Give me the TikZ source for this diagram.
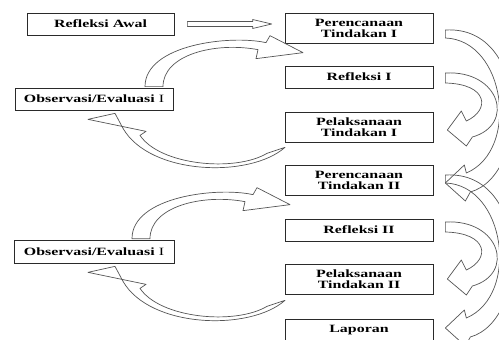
\documentclass[tikz,border=0pt]{standalone}
\usepackage{fontspec}
\setmainfont{Liberation Serif}[FakeStretch=1.43]
\usetikzlibrary{calc}

\begin{document}
\begin{tikzpicture}[
    x=0.03cm, y=-0.03cm,
    every node/.style={font=\fontsize{9.5}{9.5}\selectfont\bfseries},
    stage/.style={draw=boxcolor, line width=0.6pt, inner sep=0pt, align=center,
                  minimum width=148*\px, minimum height=22*\px},
    tall/.style={minimum height=30*\px},
    blockarrow/.style={draw=arrowcolor, line width=0.6pt, line join=round},
]

\definecolor{boxcolor}{HTML}{2A2A2A}
\definecolor{arrowcolor}{HTML}{555555}

\def\px{0.03cm}   % one pixel of the page

\useasboundingbox (0,0) rectangle (499,340);
\clip (0,0) rectangle (499,340);

% ---------------------------------------------------------------- boxes
\node[stage, minimum width=147*\px] (awal) at (100.5,24) {Refleksi Awal};

\node[stage, tall] (per1) at (359,28)  {Perencanaan\\Tindakan I};
\node[stage]       (ref1) at (359,77)  {Refleksi I};
\node[stage, tall] (pel1) at (359,127) {Pelaksanaan\\Tindakan I};
\node[stage, minimum width=158*\px] (obs1) at (94,99)
    {Observasi/Evaluasi \textmd{I}};

\node[stage, tall] (per2) at (359,180) {Perencanaan\\Tindakan II};
\node[stage]       (ref2) at (359,230) {Refleksi II};
\node[stage, tall] (pel2) at (359,279) {Pelaksanaan\\Tindakan II};
\node[stage, minimum width=160*\px, minimum height=23*\px] (obs2) at (94,251.5)
    {Observasi/Evaluasi \textmd{I}};

\node[stage] (lap) at (359,330) {Laporan};

% ---------------------------------------------------------------- straight arrow
\coordinate (s0) at ($(awal.east)+(13,0)$);
\coordinate (s1) at ($(per1.west|-awal.east)+(-13,0)$);
\draw[blockarrow] ($(s0)+(0,-2.5)$) -- ($(s1)+(-19,-2.5)$) -- ($(s1)+(-19,-4.5)$)
    -- (s1) -- ($(s1)+(-19,4.5)$) -- ($(s1)+(-19,2.5)$) -- ($(s0)+(0,2.5)$) -- cycle;

% ---------------------------------------------------------------- left loops
\foreach \k/\dx in {1/0, 2/-13} {
  % observasi -> refleksi, over the top
  \begin{scope}[shift={(obs\k.north)}, shift={(\dx,0)}]
    \draw[blockarrow] (51,-1) .. controls (51,-43) and (136,-53) .. (172,-45)
        -- (176,-52) -- (209,-35) -- (162,-29) -- (164,-38)
        .. controls (121,-46) and (69,-33) .. (69,-1) -- cycle;
  \end{scope}
  % pelaksanaan -> observasi, under the bottom
  \begin{scope}[shift={(obs\k.south)}]
    \draw[blockarrow] (191,37) .. controls (156,68) and (56,65) .. (29,18)
        -- (21,3) -- (-6,9) -- (52,21) -- (46,25)
        .. controls (66,55) and (141,62) .. (173,43) -- cycle;
  \end{scope}
}

% ---------------------------------------------------------------- right loops
\foreach \k/\dy/\dz in {1/0/0, 2/-8/-4} {
  % refleksi -> pelaksanaan
  \begin{scope}[shift={(ref\k.east)}, shift={(0,\dz)}]
    \draw[blockarrow] (12,-4) .. controls (67,-7) and (82,48) .. (39,60)
        -- (33,69) -- (14,53) -- (28,34) -- (33,44)
        .. controls (57,33) and (55,7) .. (12,6) -- cycle;
  \end{scope}
  % perencanaan -> next stage, mostly past the page edge
  \begin{scope}[shift={(ref\k.east)}, shift={(0,\dy)}]
    \draw[blockarrow] (12,-39) .. controls (72,-37) and (87,73) .. (33,96)
        -- (31,88) -- (12,106) -- (32,124) -- (37,115)
        .. controls (97,98) and (97,-52) .. (12,-47) -- cycle;
  \end{scope}
}

\end{tikzpicture}
\end{document}
